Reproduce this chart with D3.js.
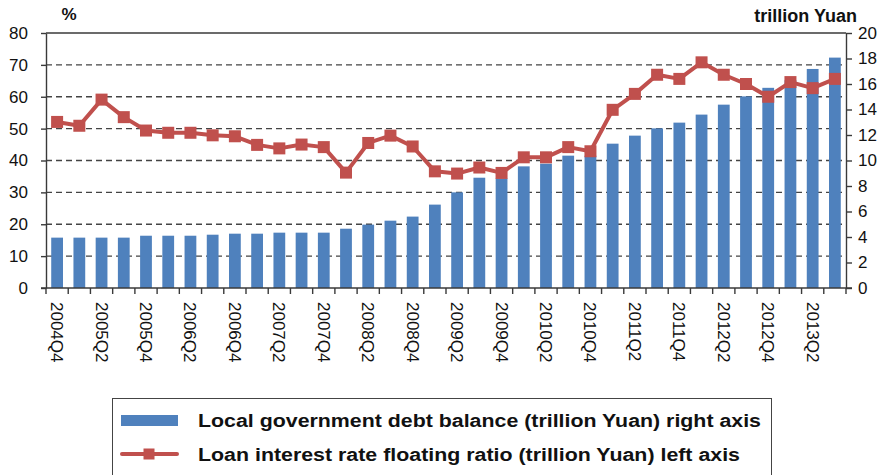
<!DOCTYPE html>
<html>
<head>
<meta charset="utf-8">
<script src="https://cdn.jsdelivr.net/npm/d3@7/dist/d3.min.js"></script>
<style>
  html, body { margin: 0; padding: 0; background: #fff; }
  svg { display: block; font-family: "Liberation Sans", Arial, Helvetica, sans-serif; }
</style>
</head>
<body>
<svg id="chart" width="884" height="475"></svg>
<script>
// Quarterly categories
const quarters = [
  "2004Q4","2005Q1","2005Q2","2005Q3","2005Q4","2006Q1","2006Q2","2006Q3","2006Q4",
  "2007Q1","2007Q2","2007Q3","2007Q4","2008Q1","2008Q2","2008Q3","2008Q4",
  "2009Q1","2009Q2","2009Q3","2009Q4","2010Q1","2010Q2","2010Q3","2010Q4",
  "2011Q1","2011Q2","2011Q3","2011Q4","2012Q1","2012Q2","2012Q3","2012Q4",
  "2013Q1","2013Q2","2013Q3"
];

// Local government debt balance, trillion Yuan (right axis)
const debtBalance = [
  3.95, 3.95, 3.95, 3.95, 4.1, 4.1, 4.1, 4.18, 4.26,
  4.26, 4.34, 4.34, 4.34, 4.65, 4.97, 5.28, 5.6,
  6.54, 7.5, 8.65, 8.6, 9.54, 9.75, 10.38, 10.38,
  11.32, 11.95, 12.52, 12.97, 13.6, 14.38, 15.03, 15.7,
  16.3, 17.18, 18.07
];

// Loan interest rate floating ratio, % (left axis)
const floatRatio = [
  52.1, 50.9, 59.1, 53.6, 49.4, 48.7, 48.7, 47.9, 47.6,
  44.9, 43.8, 45.0, 44.2, 36.2, 45.5, 47.8, 44.4,
  36.6, 35.9, 37.8, 36.1, 41.0, 41.0, 44.2, 42.9,
  55.9, 60.9, 66.9, 65.6, 70.8, 66.9, 64.0, 60.0,
  64.6, 62.7, 65.6
];

// Axis ticks
const leftTicks = [0, 10, 20, 30, 40, 50, 60, 70, 80];
const rightTicks = [0, 2, 4, 6, 8, 10, 12, 14, 16, 18, 20];

const legendLabels = [
  "Local government debt balance (trillion Yuan) right axis",
  "Loan interest rate floating ratio (trillion Yuan) left axis"
];

const BAR = "#4F81BD", LINE = "#C0504D", AXIS = "#3a3a3a";

const svg = d3.select("#chart");
const plotL = 46, plotR = 846, plotT = 33, plotB = 288;

const x = d3.scaleBand().domain(quarters).range([plotL, plotR])
  .paddingInner(0.47).paddingOuter(0.235);
const yL = d3.scaleLinear().domain([0, 80]).range([plotB, plotT]);
const yR = d3.scaleLinear().domain([0, 20]).range([plotB, plotT]);

// dashed horizontal gridlines
svg.append("g").selectAll("line")
  .data(leftTicks.filter(t => t > 0 && t < 80))
  .join("line")
  .attr("x1", plotL).attr("x2", plotR)
  .attr("y1", d => yL(d)).attr("y2", d => yL(d))
  .attr("stroke", "#444").attr("stroke-width", 1.4)
  .attr("stroke-dasharray", "6,4");

// bars
svg.append("g").selectAll("rect")
  .data(quarters.map((q, i) => ({ q, v: debtBalance[i] })))
  .join("rect")
  .attr("x", d => x(d.q))
  .attr("width", x.bandwidth())
  .attr("y", d => yR(d.v))
  .attr("height", d => yR(0) - yR(d.v))
  .attr("fill", BAR);

// top frame line
svg.append("line")
  .attr("x1", plotL).attr("x2", plotR)
  .attr("y1", yL(80)).attr("y2", yL(80))
  .attr("stroke", AXIS).attr("stroke-width", 1.4);

// left axis
const gL = svg.append("g").attr("transform", `translate(${plotL},0)`)
  .call(d3.axisLeft(yL).tickValues(leftTicks).tickSize(5).tickPadding(13).tickSizeOuter(0));
// right axis
const gR = svg.append("g").attr("transform", `translate(${plotR},0)`)
  .call(d3.axisRight(yR).tickValues(rightTicks).tickSize(6).tickPadding(6).tickSizeOuter(0));

[gL, gR].forEach(g => {
  g.select(".domain").attr("stroke", AXIS).attr("stroke-width", 1.4);
  g.selectAll(".tick line").attr("stroke", AXIS).attr("stroke-width", 1.4);
  g.selectAll(".tick text").attr("font-size", 17).attr("fill", "#111")
    .attr("font-family", "'Liberation Sans', Arial, sans-serif");
});

// bottom axis: ticks at every band boundary
const gB = svg.append("g");
gB.append("line").attr("x1", plotL - 5).attr("x2", plotR + 6)
  .attr("y1", plotB).attr("y2", plotB)
  .attr("stroke", AXIS).attr("stroke-width", 1.4);
const boundaries = quarters.map(q => x(q) - x.step() * x.paddingOuter()).concat([plotR]);
gB.selectAll("line.tk").data(boundaries).join("line").attr("class", "tk")
  .attr("x1", d => d).attr("x2", d => d)
  .attr("y1", plotB).attr("y2", plotB + 6)
  .attr("stroke", AXIS).attr("stroke-width", 1.4);

// rotated quarter labels, every second quarter
gB.selectAll("text").data(quarters.filter((q, i) => i % 2 === 0)).join("text")
  .attr("transform", d => `translate(${x(d) + x.bandwidth() / 2},${plotB + 14}) rotate(90)`)
  .attr("text-anchor", "start")
  .attr("dy", "0.35em")
  .attr("font-size", 17)
  .attr("fill", "#111")
  .text(d => d);

// line series
const pts = quarters.map((q, i) => ({ q, v: floatRatio[i] }));
svg.append("path").datum(pts)
  .attr("fill", "none").attr("stroke", LINE).attr("stroke-width", 4)
  .attr("stroke-linejoin", "round")
  .attr("d", d3.line().x(d => x(d.q) + x.bandwidth() / 2).y(d => yL(d.v)));
const mk = 12;
svg.append("g").selectAll("rect").data(pts).join("rect")
  .attr("x", d => x(d.q) + x.bandwidth() / 2 - mk / 2)
  .attr("y", d => yL(d.v) - mk / 2)
  .attr("width", mk).attr("height", mk)
  .attr("fill", LINE);

// axis titles
svg.append("text").attr("x", 69).attr("y", 20).attr("text-anchor", "middle")
  .attr("font-size", 17).attr("font-weight", "bold").attr("fill", "#111").text("%");
svg.append("text").attr("x", 857).attr("y", 22).attr("text-anchor", "end")
  .attr("font-size", 18).attr("font-weight", "bold").attr("fill", "#111").text("trillion Yuan");

// legend
const lg = svg.append("g");
lg.append("rect").attr("x", 112.5).attr("y", 398.5).attr("width", 659).attr("height", 90)
  .attr("fill", "#fff").attr("stroke", "#444").attr("stroke-width", 1);
lg.append("rect").attr("x", 121).attr("y", 415).attr("width", 57).attr("height", 11).attr("fill", BAR);
lg.append("line").attr("x1", 122).attr("x2", 177).attr("y1", 454).attr("y2", 454)
  .attr("stroke", LINE).attr("stroke-width", 4).attr("stroke-linecap", "round");
lg.append("rect").attr("x", 143.5).attr("y", 448.5).attr("width", 11).attr("height", 11).attr("fill", LINE);
const legendWidths = [563, 542];
lg.selectAll("text.lt").data(legendLabels).join("text").attr("class", "lt")
  .attr("x", 198).attr("y", (d, i) => 427 + i * 34)
  .attr("font-size", 18).attr("font-weight", "bold").attr("fill", "#111")
  .attr("textLength", (d, i) => legendWidths[i]).attr("lengthAdjust", "spacingAndGlyphs")
  .text(d => d);
</script>
</body>
</html>
